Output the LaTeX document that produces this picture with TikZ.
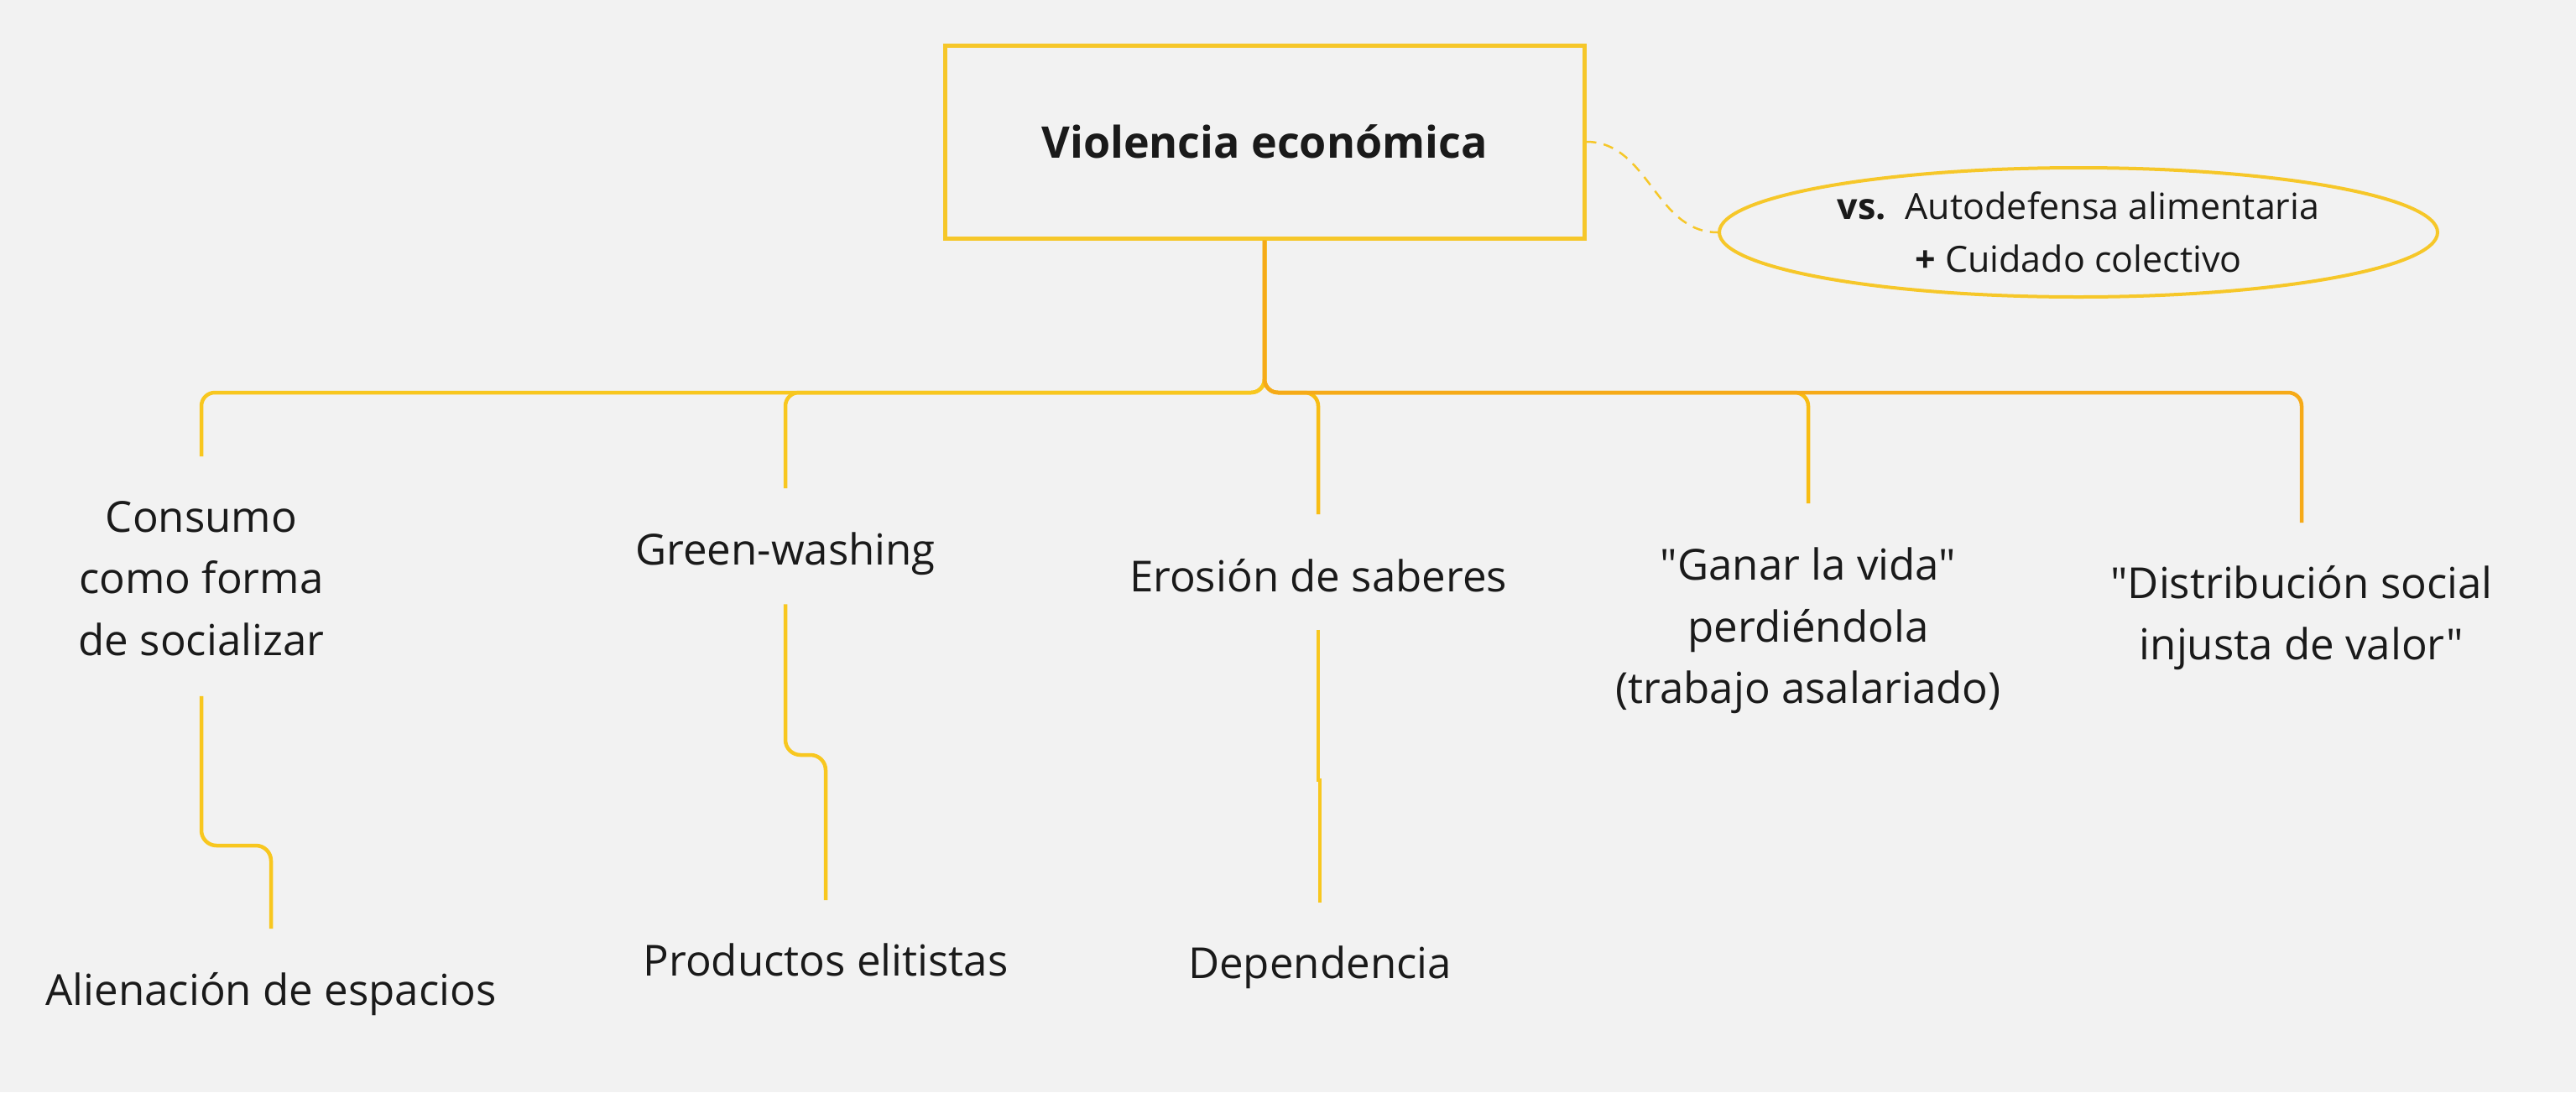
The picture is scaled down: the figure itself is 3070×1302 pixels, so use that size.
\documentclass[tikz,border=0pt]{standalone}
\usepackage{fontspec}
\setmainfont{Open Sans}[Ligatures=TeXOff]
\usetikzlibrary{shapes.geometric,calc}
\definecolor{bg}{HTML}{F2F2F2}
\definecolor{ink}{HTML}{1A1A1A}
\definecolor{yel}{HTML}{F8C71F}
\definecolor{amb}{HTML}{F8BD14}
\definecolor{ora}{HTML}{F6AA18}
\definecolor{boxy}{HTML}{F6C729}
\begin{document}
\begin{tikzpicture}[x=1pt,y=1pt,
  every node/.style={text=ink},
  topicnode/.style={font=\fontsize{51}{73.5}\selectfont, align=center, inner xsep=0pt, inner ysep=48pt, anchor=north},
  rootbox/.style={draw=boxy, line width=5pt, minimum width=762pt, minimum height=230pt, inner sep=0pt, font=\fontsize{52}{60}\selectfont\bfseries},
  notebox/.style={ellipse, draw=boxy, line width=4pt, minimum width=856pt, minimum height=154pt, inner sep=0pt, align=center, font=\fontsize{43}{63}\selectfont},
  linkline/.style={line width=4.5pt, rounded corners=16pt},
  sublink/.style={line width=4.5pt, draw=yel, rounded corners=18pt},
  dashlink/.style={draw=boxy, line width=2.5pt, dash pattern=on 12pt off 9pt}
]
\fill[bg] (0,0) rectangle (3070,-1302);
\useasboundingbox (0,0) rectangle (3070,-1302);

\node[rootbox] (root) at (1507,-169) {Violencia económica};
\node[notebox] (vs) at (2477,-277) {\textbf{vs.}\hspace{8pt} Autodefensa alimentaria\\\textbf{+} Cuidado colectivo};
\draw[dashlink] (root.east) to[out=0,in=180] (vs.west);

\coordinate (bus) at (1507,-468);
\node[topicnode] (c1) at (240,-549) {Consumo\\como forma\\de socializar};
\node[topicnode] (c2) at (936,-587) {Green-washing};
\node[topicnode] (c3) at (1571,-618) {Erosión de saberes};
\node[topicnode] (c4) at (2155,-605) {"Ganar la vida"\\perdiéndola\\(trabajo asalariado)};
\node[topicnode] (c5) at (2743,-626) {"Distribución social\\injusta de valor"};

\node[topicnode] (g1) at (323,-1111) {Alienación de espacios};
\node[topicnode] (g2) at (984,-1077) {Productos elitistas};
\node[topicnode] (g3) at (1573,-1080) {Dependencia};

\draw[linkline, draw=yel] (root.south) -- (bus) -| ([yshift=5pt]c1.north);
\draw[linkline, draw=yel] (root.south) -- (bus) -| ([yshift=5pt]c2.north);
\draw[linkline, draw=amb] (root.south) -- (bus) -| ([yshift=5pt]c3.north);
\draw[linkline, draw=amb] (root.south) -- (bus) -| ([yshift=5pt]c4.north);
\draw[linkline, draw=ora] (root.south) -- (bus) -| ([yshift=3pt]c5.north);

\draw[sublink] (c1.south) |- ([yshift=103pt]g1.north) -- ([yshift=4pt]g1.north);
\draw[sublink] ([yshift=14pt]c2.south) |- ([yshift=177pt]g2.north) -- ([yshift=4pt]g2.north);
\draw[sublink, rounded corners=0pt] ([yshift=3pt]c3.south) |- ([yshift=150pt]g3.north) -- ([yshift=4pt]g3.north);
\end{tikzpicture}
\end{document}
